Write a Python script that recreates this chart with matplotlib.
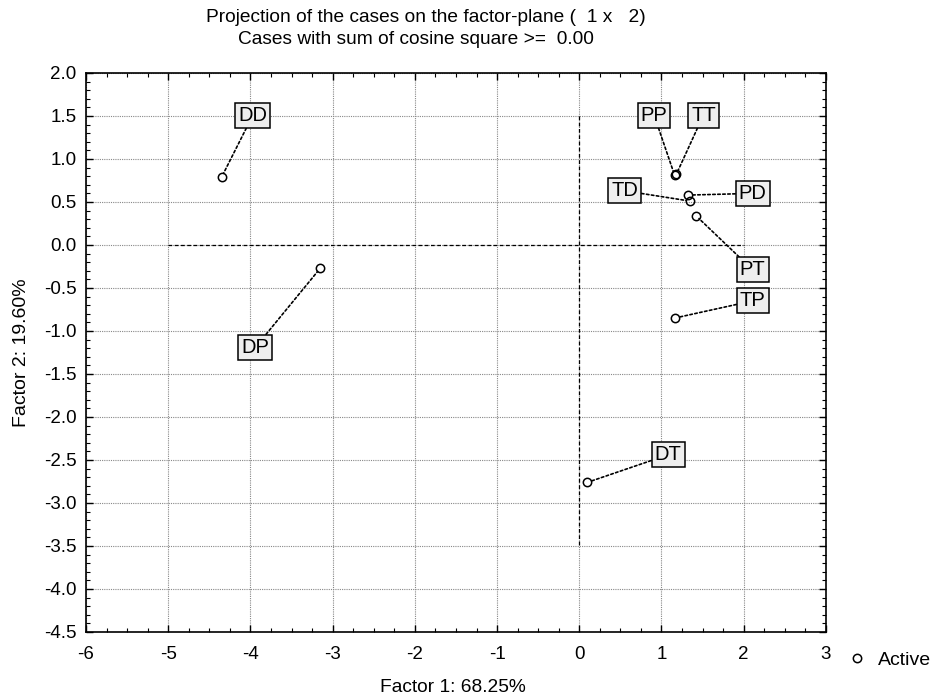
import numpy as np
import matplotlib.pyplot as plt
from matplotlib.ticker import MultipleLocator, FormatStrFormatter

plt.rcParams['font.family'] = ['Liberation Sans', 'DejaVu Sans']
plt.rcParams['axes.unicode_minus'] = False

# case coordinates on factor plane (1 x 2)
cases = ["DD", "DP", "PP", "TT", "PD", "TD", "PT", "TP", "DT"]
factor1 = [-4.35, -3.15, 1.16, 1.18, 1.32, 1.35, 1.42, 1.16, 0.10]
factor2 = [0.79, -0.27, 0.81, 0.82, 0.58, 0.51, 0.34, -0.85, -2.76]
# where the case labels were placed
label_x = [-3.97, -3.94, 0.91, 1.51, 2.11, 0.55, 2.11, 2.11, 1.08]
label_y = [1.51, -1.19, 1.51, 1.51, 0.60, 0.63, -0.29, -0.65, -2.44]

fig = plt.figure(figsize=(9.33, 6.97), dpi=100)
ax = fig.add_axes([0.0922, 0.0933, 0.793, 0.802])

ax.set_xlim(-6, 3)
ax.set_ylim(-4.5, 2.0)
ax.xaxis.set_major_locator(MultipleLocator(1))
ax.xaxis.set_minor_locator(MultipleLocator(0.25))
ax.yaxis.set_major_locator(MultipleLocator(0.5))
ax.yaxis.set_minor_locator(MultipleLocator(0.1))
ax.yaxis.set_major_formatter(FormatStrFormatter('%.1f'))
ax.tick_params(which='both', direction='in', top=True, right=True, labelsize=13.5)
ax.tick_params(which='major', length=5, width=1)
ax.tick_params(which='minor', length=3, width=0.8)
ax.tick_params(axis='x', pad=10)
ax.tick_params(axis='y', pad=7)
for s in ax.spines.values():
    s.set_linewidth(1.2)

ax.grid(True, which='major', color='#888888', linestyle=(0, (1, 1)), linewidth=0.8)

# origin lines
ax.plot([-5, 2], [0, 0], color='black', linestyle='--', dashes=(3, 2), linewidth=0.9)
ax.plot([0, 0], [1.5, -3.5], color='black', linestyle='--', dashes=(3, 2), linewidth=0.9)

ax.plot(factor1, factor2, linestyle='none', marker='o', markersize=6,
        markerfacecolor='none', markeredgecolor='black', markeredgewidth=1.1,
        label='Active', zorder=4)

for name, x, y, lx, ly in zip(cases, factor1, factor2, label_x, label_y):
    ax.annotate(name, xy=(x, y), xytext=(lx, ly), ha='center', va='center', fontsize=14.5,
                bbox=dict(boxstyle='square,pad=0.15', facecolor='#eeeeee', edgecolor='black', linewidth=1.1),
                arrowprops=dict(arrowstyle='-', linestyle=(0, (1.5, 1.5)), color='black',
                                linewidth=1.2, shrinkA=0, shrinkB=3), zorder=5)

# two-line title, each line centred as in the original
fig.text(426 / 933, 1 - 17 / 697, "Projection of the cases on the factor-plane (  1 x   2)",
         ha='center', va='center', fontsize=13.8)
fig.text(416 / 933, 1 - 40 / 697, "Cases with sum of cosine square >=  0.00",
         ha='center', va='center', fontsize=13.8)
fig.text(453 / 933, 1 - 688 / 697, "Factor 1: 68.25%", ha='center', va='center', fontsize=13.8)
ax.set_ylabel("Factor 2: 19.60%", fontsize=14, labelpad=10)

ax.legend(loc='center left', bbox_to_anchor=(1.0, -0.05), frameon=False, fontsize=14,
          handletextpad=0.5, handlelength=1.2, borderaxespad=0.6)

fig.savefig("out.png", dpi=100)
